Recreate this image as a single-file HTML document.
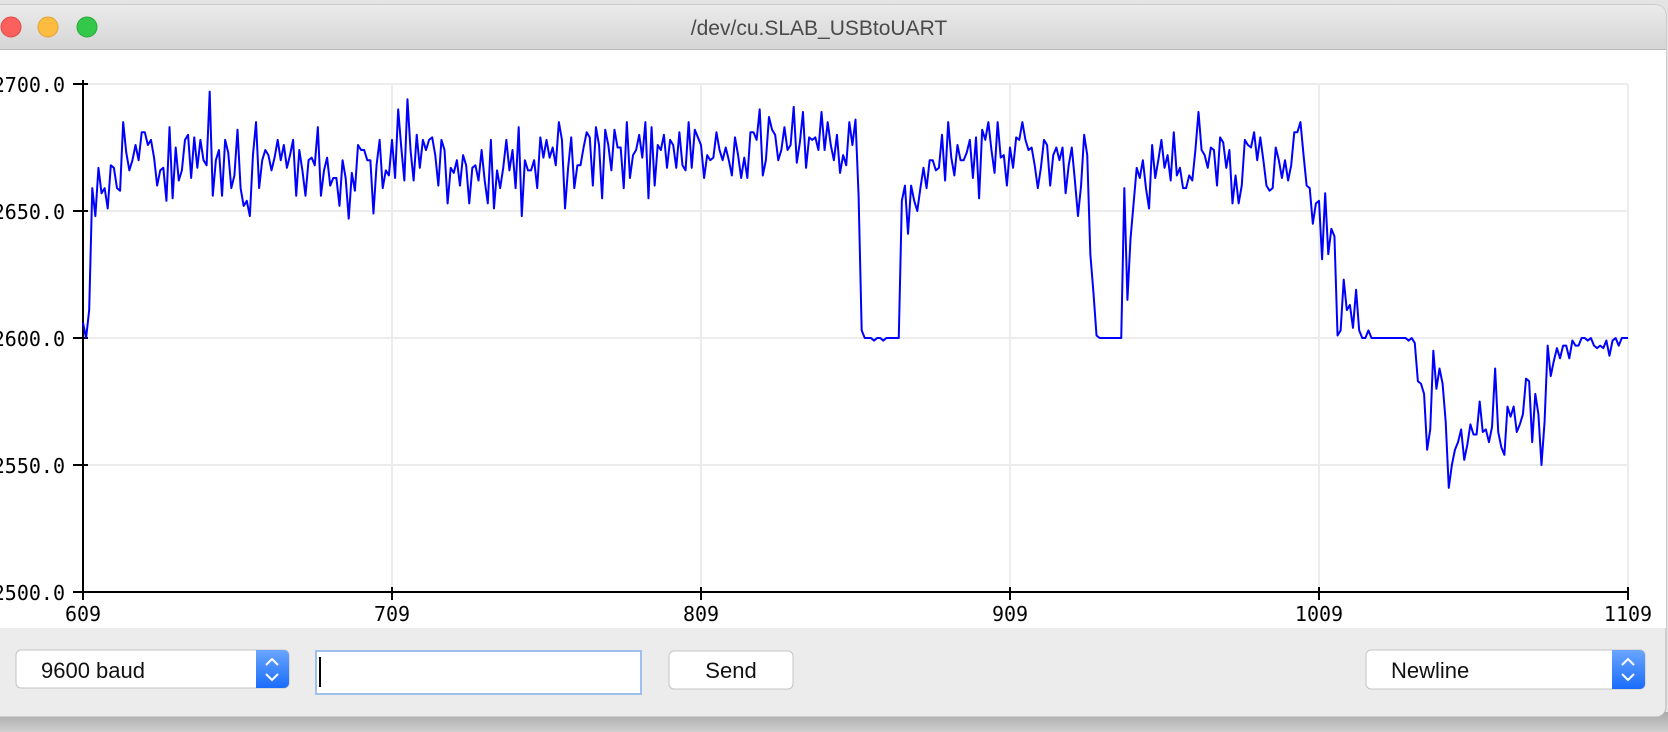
<!DOCTYPE html>
<html><head><meta charset="utf-8"><style>
html,body{margin:0;padding:0;width:1668px;height:732px;overflow:hidden;background:#e4e4e4;}
svg{display:block;}
</style></head><body>
<svg id="root" width="1668" height="732" viewBox="0 0 1668 732" xmlns="http://www.w3.org/2000/svg">
<defs>
<linearGradient id="tb" x1="0" y1="0" x2="0" y2="1"><stop offset="0" stop-color="#ebebeb"/><stop offset="1" stop-color="#d5d5d5"/></linearGradient>
<linearGradient id="bl" x1="0" y1="0" x2="0" y2="1"><stop offset="0" stop-color="#6aa6ff"/><stop offset="1" stop-color="#1a6cfb"/></linearGradient>
<linearGradient id="sh" x1="0" y1="0" x2="0" y2="1"><stop offset="0" stop-color="#a9a9a9"/><stop offset="1" stop-color="#cfcfcf"/></linearGradient>
</defs>
<rect x="0" y="712" width="1668" height="20" fill="url(#sh)"/>
<rect x="-12" y="5" width="1678" height="712" rx="10" fill="#ececec" stroke="#b5b5b5"/>
<path d="M-12 49 V15 a10 10 0 0 1 10 -10 H1656 a10 10 0 0 1 10 10 V49 Z" fill="url(#tb)"/>
<line x1="-12" y1="49.5" x2="1666" y2="49.5" stroke="#b8b8b8"/>
<circle cx="11" cy="27" r="10" fill="#fc605c" stroke="#de4a44"/>
<circle cx="48" cy="27" r="10" fill="#fdbc40" stroke="#dea033"/>
<circle cx="87" cy="27" r="10" fill="#34c84a" stroke="#2aa83c"/>
<text x="819" y="35" text-anchor="middle" font-family="Liberation Sans, sans-serif" font-size="21" fill="#4a4a4a">/dev/cu.SLAB_USBtoUART</text>
<rect x="0" y="50" width="1666" height="578" fill="#ffffff"/>
<g id="grid"></g>
<g id="axes"></g>
<path id="series" fill="none" stroke="#0000ff" stroke-width="2" stroke-linejoin="round"/>
<g>
<rect x="16" y="650" width="273" height="38" rx="5" fill="#fff" stroke="#c4c4c4"/>
<path d="M256 650 H284 a5 5 0 0 1 5 5 V683 a5 5 0 0 1 -5 5 H256 Z" fill="url(#bl)"/>
<path d="M266 665 l6 -6 l6 6 M266 674 l6 6 l6 -6" stroke="#fff" stroke-width="2" fill="none"/>
<text x="41" y="678" font-family="Liberation Sans, sans-serif" font-size="22" fill="#111">9600 baud</text>
</g>
<g>
<rect x="316" y="651" width="325" height="43" fill="#fff" stroke="#9fc0ec" stroke-width="2"/>
<line x1="320" y1="657" x2="320" y2="687" stroke="#000" stroke-width="2"/>
</g>
<g>
<rect x="669" y="651" width="124" height="38" rx="5" fill="#fff" stroke="#c4c4c4"/>
<text x="731" y="678" text-anchor="middle" font-family="Liberation Sans, sans-serif" font-size="22" fill="#111">Send</text>
</g>
<g>
<rect x="1366" y="650" width="279" height="39" rx="5" fill="#fff" stroke="#c4c4c4"/>
<path d="M1612 650 H1640 a5 5 0 0 1 5 5 V684 a5 5 0 0 1 -5 5 H1612 Z" fill="url(#bl)"/>
<path d="M1622 665 l6 -6 l6 6 M1622 674 l6 6 l6 -6" stroke="#fff" stroke-width="2" fill="none"/>
<text x="1391" y="678" font-family="Liberation Sans, sans-serif" font-size="22" fill="#111">Newline</text>
</g>
</svg>
<script>
const xTicks = [609, 709, 809, 909, 1009, 1109];
const yTicks = [2500, 2550, 2600, 2650, 2700];
const xTickLabels = ["609", "709", "809", "909", "1009", "1109"];
const yTickLabels = ["2500.0", "2550.0", "2600.0", "2650.0", "2700.0"];
const xStart = 609;
const segA = [2606,2600,2611,2659,2648,2667,2657,2659,2651,2668,2667,2659,2658,2685,2673,2666,2670,2676,2670,2681,2681,2676,2678,2671,2660,2666,2667,2654,2683,2655,2675,2662,2666,2678,2680,2663,2679,2667,2678,2670,2668,2697,2656,2670,2674,2656,2678,2673,2659,2664,2682,2659,2652,2654,2648,2672,2685,2659,2670,2674,2672,2666,2671,2678,2670,2676,2667,2672,2678,2656,2674,2666,2656,2670,2671,2668,2683,2656,2666,2671,2660,2663,2663,2652,2670,2663,2647,2665,2658,2676,2674,2674,2670,2670,2649,2668,2678,2659,2666,2664,2678,2663,2690,2675,2662,2694,2674,2662,2680,2667,2678,2674,2678,2679,2672,2660,2678,2674,2653,2667,2665,2670,2660,2672,2668];
const segB = [2653,2667,2668,2662,2674,2662,2653,2678,2651,2666,2659,2667,2678,2666,2674,2659,2683,2648,2670,2666,2666,2670,2659,2679,2671,2678,2671,2675,2668,2685,2678,2651,2667,2679,2659,2668,2668,2675,2681,2679,2660,2683,2676,2655,2682,2676,2666,2682,2675,2675,2659,2685,2663,2672,2674,2680,2671,2685,2655,2683,2660,2676,2674,2680,2667,2678,2676,2667,2681,2668,2666,2685,2667,2682,2679,2676,2663,2672,2670,2671,2681,2674,2670,2675,2670,2664,2679,2672,2663,2671,2663,2681,2681,2678,2690,2664,2670,2687,2682,2680,2670,2674,2683,2674,2676,2691,2669,2677,2689,2667,2679,2678,2679,2674,2689,2674,2685,2676,2670,2680,2665,2672,2668,2685,2676,2686];
const segC = [2656,2603,2600,2600,2600,2599,2600,2600,2599,2600,2600,2600,2600,2600];
const segD = [2654,2660,2641,2660,2654,2650,2659,2667,2659,2670,2670,2666,2667,2680,2662,2685,2671,2664,2676,2670,2670,2673,2678,2663,2679,2655,2682,2678,2685,2674,2665,2685,2671,2672,2660,2675,2667,2679,2678,2685,2678,2674,2675,2668,2659,2667,2678,2676,2660,2672,2675,2670,2675,2657,2668,2675,2662,2648,2660,2680,2672];
const segE = [2633,2618,2601,2600,2600,2600,2600,2600,2600,2600,2600,2659,2615,2639,2653];
const segG = [2667,2663,2670,2659,2651,2676,2663,2670,2678,2667,2672,2662,2681,2664,2667,2659,2659,2664,2662,2674,2689,2674,2672,2667,2675,2674,2660,2679,2677,2667,2674,2653,2664];
const segH = [2653,2660,2678,2676,2675,2681,2670,2679,2670,2660,2658,2659,2675,2670,2663,2670,2662,2668,2681,2681,2685,2672,2660,2659,2645,2653,2654,2631,2657,2633,2643,2640];
const segI = [2601,2603,2623,2611,2613,2604,2619,2603,2600,2600,2603,2600,2600,2600,2600,2600,2600,2600,2600,2600,2600,2600,2600,2599,2600,2598,2583,2582,2578,2556,2564,2595,2580,2588,2582,2567,2541,2550,2556,2559,2564,2552,2558,2566,2562,2562,2575,2563,2564,2559,2565,2588,2563,2557,2554,2573,2569,2573,2563,2566,2570,2584,2583,2559,2578,2570,2550,2567,2597,2585,2591,2596,2592,2597,2597,2592,2599,2597,2597,2600,2600,2599,2600,2597,2596,2597,2596,2599,2593,2599,2600,2597,2600,2600,2600];
const values = [].concat(segA, segB, segC, segD, segE, segG, segH, segI);

const NS = "http://www.w3.org/2000/svg";
const L = 83, R = 1628, T = 84, B = 592;
const xMin = 609, xMax = 1109, yMin = 2500, yMax = 2700;
function sx(v){ return L + (v - xMin) / (xMax - xMin) * (R - L); }
function sy(v){ return B - (v - yMin) / (yMax - yMin) * (B - T); }
function mk(tag, attrs, parent){ const e = document.createElementNS(NS, tag); for (const k in attrs) e.setAttribute(k, attrs[k]); parent.appendChild(e); return e; }

const grid = document.getElementById("grid");
const axes = document.getElementById("axes");
const FONT = "DejaVu Sans Mono, Liberation Mono, monospace";
yTicks.forEach((t, i) => {
  const g = mk("line", {x1: L, x2: R, y1: sy(t), y2: sy(t), stroke: "#ececec", "stroke-width": 2}, grid);
  
  
  const tk = mk("line", {x1: L - 10, x2: L + 5, y1: sy(t), y2: sy(t), stroke: "#000", "stroke-width": 2}, axes);
  
  
  const tx = mk("text", {x: L - 18, y: sy(t) + 8, "text-anchor": "end", "font-family": FONT, "font-size": 20, fill: "#000"}, axes);
  tx.textContent = yTickLabels[i];
  
  
});
xTicks.forEach((t, i) => {
  const g = mk("line", {x1: sx(t), x2: sx(t), y1: T, y2: B, stroke: "#ececec", "stroke-width": 2}, grid);
  
  
  const tk = mk("line", {x1: sx(t), x2: sx(t), y1: B - 5, y2: B + 8, stroke: "#000", "stroke-width": 2}, axes);
  
  
  const tx = mk("text", {x: sx(t), y: B + 29, "text-anchor": "middle", "font-family": FONT, "font-size": 20, fill: "#000"}, axes);
  tx.textContent = xTickLabels[i];
  
  
});
const ya = mk("line", {x1: L, x2: L, y1: T - 4, y2: B, stroke: "#000", "stroke-width": 2}, axes);


const xa = mk("line", {x1: L, x2: R, y1: B, y2: B, stroke: "#000", "stroke-width": 2}, axes);



let d = "";
values.forEach((v, i) => { d += (i ? "L" : "M") + sx(xStart + i).toFixed(2) + " " + sy(v).toFixed(2); });
document.getElementById("series").setAttribute("d", d);
</script>
</body></html>
